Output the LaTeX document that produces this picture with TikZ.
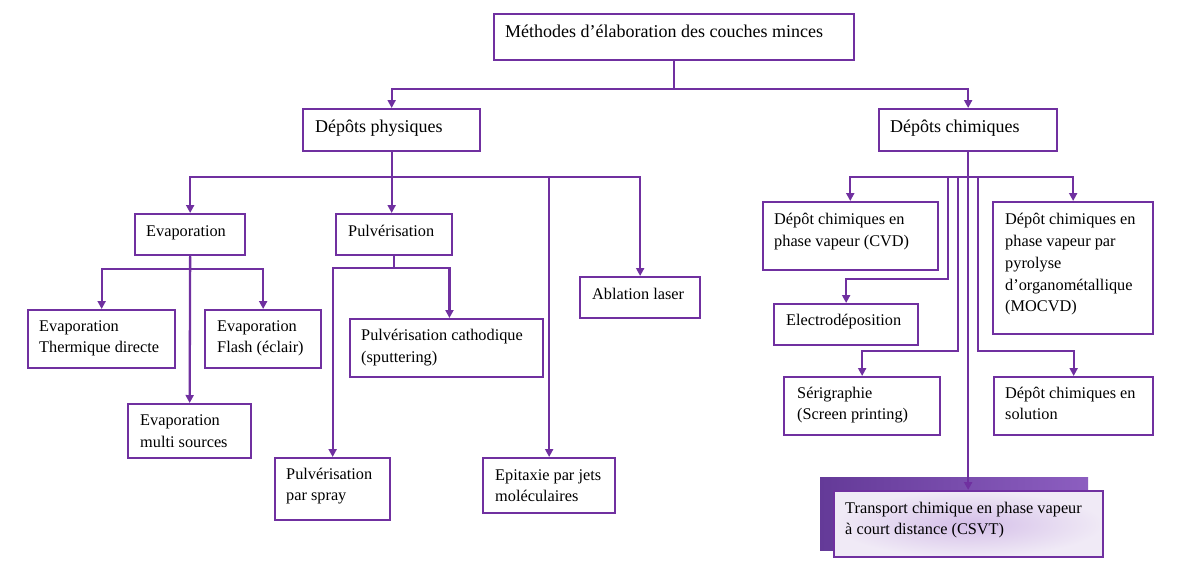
\documentclass[tikz,border=0pt]{standalone}
\usepackage{fontspec}
\setmainfont{Liberation Serif}
\usetikzlibrary{arrows.meta}
\definecolor{pur}{RGB}{112,48,160}
\definecolor{shL}{RGB}{100,58,152}
\definecolor{shR}{RGB}{140,94,192}
\definecolor{lavO}{RGB}{240,234,246}
\definecolor{lavI}{RGB}{212,190,232}
\begin{document}
\begin{tikzpicture}[x=1pt,y=-1pt,
  box/.style={draw=pur, line width=2.3pt, rectangle, inner sep=0pt, anchor=north west},
  big/.style={font=\fontsize{18}{22}\selectfont, anchor=north west, inner sep=0pt, align=left},
  sml/.style={font=\fontsize{16.3}{21.8}\selectfont, anchor=north west, inner sep=0pt, align=left},
  conn/.style={draw=pur, line width=2.3pt},
  arr/.style={conn, -{Triangle[length=8pt,width=8pt]}}]
\useasboundingbox (0,0) rectangle (1193,560);
\fill[white] (0,0) rectangle (1193,560);

% boxes
\node[box, minimum width=360.5pt, minimum height=46pt] (main) at (492.5,13) {};
\node[box, minimum width=177pt, minimum height=42pt] (phys) at (302,108) {};
\node[box, minimum width=178pt, minimum height=42pt] (chim) at (878,108) {};
\node[box, minimum width=110pt, minimum height=41pt] (evap) at (134,213) {};
\node[box, minimum width=116pt, minimum height=41pt] (pulv) at (335,213) {};
\node[box, minimum width=147pt, minimum height=58pt] (therm) at (27,309) {};
\node[box, minimum width=116pt, minimum height=58pt] (flash) at (204,309) {};
\node[box, minimum width=123pt, minimum height=54pt] (multi) at (127,403) {};
\node[box, minimum width=193.4pt, minimum height=58pt] (cath) at (348.6,318) {};
\node[box, minimum width=115pt, minimum height=62pt] (spray) at (274,457) {};
\node[box, minimum width=132pt, minimum height=55pt] (epi) at (482,457) {};
\node[box, minimum width=120pt, minimum height=41pt] (abl) at (579,276) {};
\node[box, minimum width=175.2pt, minimum height=67.5pt] (cvd) at (761.5,201) {};
\node[box, minimum width=160pt, minimum height=132pt] (moc) at (992,201) {};
\node[box, minimum width=144pt, minimum height=41pt] (elec) at (773,303) {};
\node[box, minimum width=156pt, minimum height=58pt] (seri) at (783,376) {};
\node[box, minimum width=159pt, minimum height=58pt] (sol) at (993,376) {};
\shade[left color=shL, right color=shR] (820,477) rectangle (1088,550);
\node[box, inner color=lavI, outer color=lavO, minimum width=269pt, minimum height=66pt] (csvt) at (833,490) {};

% texts
\node[big] (main-t) at (505,21.6) {\strut Méthodes d’élaboration des couches minces};
\node[big] (phys-t) at (315,117.3) {\strut Dépôts physiques};
\node[big] (chim-t) at (890,117.3) {\strut Dépôts chimiques};
\node[sml] (evap-t) at (146,220.7) {\strut Evaporation};
\node[sml] (pulv-t) at (348,220.7) {\strut Pulvérisation};
\node[sml] (therm-t) at (39,315.7) {\strut Evaporation\\Thermique directe};
\node[sml] (flash-t) at (217,315.7) {\strut Evaporation\\Flash (éclair)};
\node[sml] (multi-t) at (140,410.2) {\strut Evaporation\\multi sources};
\node[sml] (cath-t) at (361,325.2) {\strut Pulvérisation cathodique\\(sputtering)};
\node[sml] (spray-t) at (286,463.7) {\strut Pulvérisation\\par spray};
\node[sml] (epi-t) at (495,464.7) {\strut Epitaxie par jets\\moléculaires};
\node[sml] (abl-t) at (592,283.7) {\strut Ablation laser};
\node[sml] (cvd-t) at (774,209.2) {\strut Dépôt chimiques en\\phase vapeur (CVD)};
\node[sml] (moc-t) at (1005,209.2) {\strut Dépôt chimiques en\\phase vapeur par\\pyrolyse\\d’organométallique\\(MOCVD)};
\node[sml] (elec-t) at (786,310.2) {\strut Electrodéposition};
\node[sml] (seri-t) at (797,382.7) {\strut Sérigraphie\\(Screen printing)};
\node[sml] (sol-t) at (1005,382.7) {\strut Dépôt chimiques en\\solution};
\node[sml] (csvt-t) at (845,497.7) {\strut Transport chimique en phase vapeur\\à court distance (CSVT)};

% connectors
\draw[arr] (main.south) -- ++(0,28) -| (phys.north);
\draw[arr] (main.south) -- ++(0,28) -| (chim.north);

\draw[arr] (phys.south) -- ++(0,25) -| (evap.north);
\draw[arr] (phys.south) -- (phys.south |- pulv.north);
\draw[arr] (phys.south) -- ++(0,25) -| (epi.north);
\draw[arr] (phys.south) -- ++(0,25) -| (abl.north);

\draw[arr] (evap.south) -- ++(0,13) -| (therm.north);
\draw[arr] (evap.south) -- ++(0,13) -| (flash.north);
\draw[arr] (evap.south) -- (multi.north);

\draw[arr] (pulv.south) -- ++(0,12) -| (spray.north);
\draw[arr] (pulv.south) -- ++(0,12) -| ([xshift=3pt]cath.north);

\coordinate (bus) at ([yshift=-24.5pt]chim.south);
\draw[arr] (chim.south) -- ++(0,24.5) -| (cvd.north);
\draw[arr] (chim.south) -- ++(0,24.5) -| (moc.north);
\draw[arr] ([xshift=-20pt]bus) -- ++(0,102.5) -| (elec.north);
\draw[arr] ([xshift=-10.5pt]bus) -- ++(0,174.5) -| (seri.north);
\draw[arr] ([xshift=10pt]bus) -- ++(0,174.5) -| (sol.north);
\draw[arr] (chim.south) -- (chim.south |- csvt.north);
\end{tikzpicture}
\end{document}
